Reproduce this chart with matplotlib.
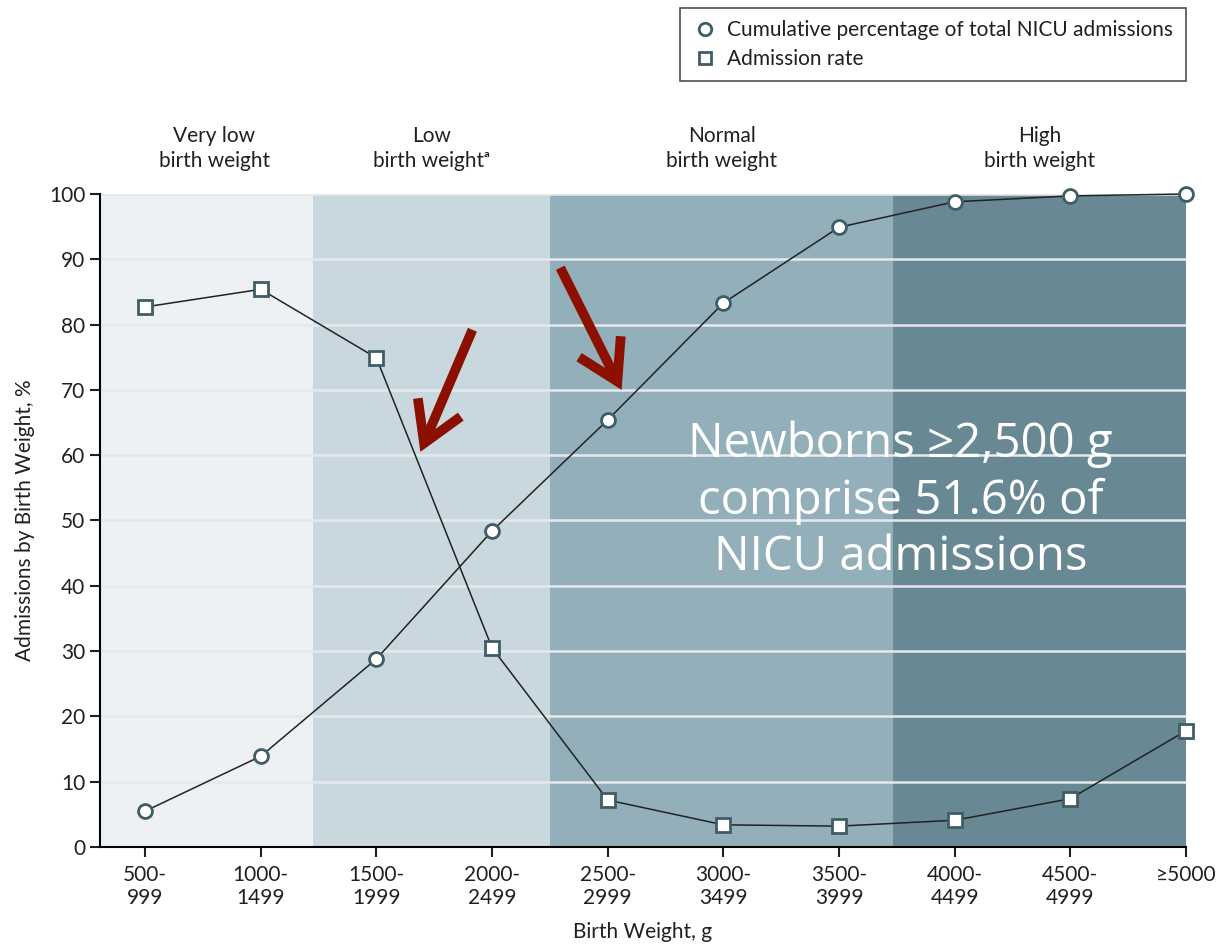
import matplotlib.pyplot as plt
from matplotlib.lines import Line2D

weight_labels = ["500-\n999", "1000-\n1499", "1500-\n1999", "2000-\n2499", "2500-\n2999",
                 "3000-\n3499", "3500-\n3999", "4000-\n4499", "4500-\n4999", "\u22655000"]
cumulative = [5.5, 13.9, 28.8, 48.4, 65.4, 83.3, 94.9, 98.8, 99.7, 100.0]
admission_rate = [82.7, 85.4, 74.9, 30.5, 7.2, 3.4, 3.2, 4.1, 7.4, 17.8]

band_names = ["Very low\nbirth weight", "Low\nbirth weight\u1d43",
              "Normal\nbirth weight", "High\nbirth weight"]
band_edges = [-0.39, 1.45, 3.5, 6.47, 9.0]
band_colors = ["#eef1f4", "#c9d7de", "#93afba", "#688893"]

plt.rcParams['font.family'] = ['Lato', 'DejaVu Sans']
txt = '#231f20'

fig = plt.figure(figsize=(12.18, 9.48), dpi=100)
ax = fig.add_axes([0.0821, 0.1065, 0.8916, 0.6889])

x = list(range(len(weight_labels)))
for i in range(4):
    ax.axvspan(band_edges[i], band_edges[i + 1], color=band_colors[i], lw=0, zorder=0)
    xc = (band_edges[i] + band_edges[i + 1]) / 2
    if i == 0:
        xc = 0.6
    ax.text(xc, 103.5, band_names[i], ha='center', va='bottom', fontsize=15,
            color=txt, linespacing=1.3)

for yv in range(10, 101, 10):
    ax.axhline(yv, color='#e6e9eb', lw=1.8, zorder=1)

edge = '#3f5d67'
ax.plot(x, cumulative, color='#222222', lw=1.1, marker='o', ms=10,
        mfc='white', mec=edge, mew=2, zorder=3, clip_on=False)
ax.plot(x, admission_rate, color='#222222', lw=1.1, marker='s', ms=10,
        mfc='white', mec=edge, mew=2, zorder=3, clip_on=False)

arrow_color = '#8b1000'
arrow_style = dict(arrowstyle='->,head_length=0.7,head_width=0.42',
                   color=arrow_color, lw=7, shrinkA=0, shrinkB=0,
                   mutation_scale=40, capstyle='butt', joinstyle='miter')
ax.annotate('', xy=(2.38, 60.5), xytext=(2.83, 79.2), arrowprops=arrow_style, zorder=4)
ax.annotate('', xy=(4.12, 70.0), xytext=(3.59, 88.7), arrowprops=arrow_style, zorder=4)

ax.text(6.53, 53, "Newborns \u22652,500 g\ncomprise 51.6% of\nNICU admissions",
        ha='center', va='center', fontsize=34, color='white',
        family=['Open Sans', 'DejaVu Sans'], linespacing=1.25, zorder=5)

ax.set_xlim(-0.39, 9.0)
ax.set_ylim(0, 100)
ax.set_xticks(x)
ax.set_xticklabels(weight_labels, fontsize=15, color=txt)
ax.set_yticks(range(0, 101, 10))
ax.tick_params(axis='y', labelsize=15, length=7, width=1.5, colors=txt)
ax.tick_params(axis='x', length=7, width=1.5, colors=txt, pad=6)
ax.spines['top'].set_visible(False)
ax.spines['right'].set_visible(False)
ax.spines['left'].set_linewidth(1.5)
ax.spines['bottom'].set_linewidth(1.5)

ax.set_xlabel("Birth Weight, g", fontsize=15, color=txt, labelpad=10)
ax.set_ylabel("Admissions by Birth Weight, %", fontsize=15, color=txt, labelpad=10)

handles = [
    Line2D([], [], ls='none', marker='o', ms=9, mfc='white', mec=edge, mew=2),
    Line2D([], [], ls='none', marker='s', ms=9, mfc='white', mec=edge, mew=2),
]
leg = fig.legend(handles, ["Cumulative percentage of total NICU admissions", "Admission rate"],
                 loc='upper right', bbox_to_anchor=(0.9737, 0.9916), fontsize=15,
                 frameon=True, fancybox=False, edgecolor='#222222', handletextpad=0.5,
                 handlelength=1.2, labelspacing=0.4, borderpad=0.6, borderaxespad=0)
leg.get_frame().set_linewidth(1.2)
for t in leg.get_texts():
    t.set_color(txt)

fig.savefig("out.png", dpi=100)
